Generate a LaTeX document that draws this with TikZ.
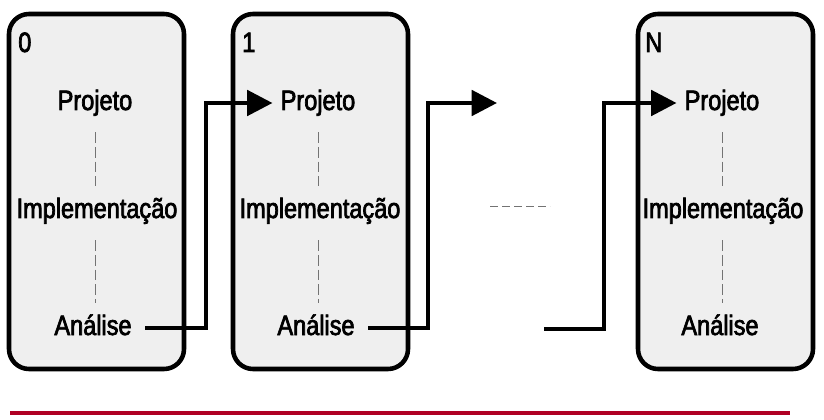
\documentclass[tikz,border=0pt]{standalone}
\usepackage{fontspec}
\setmainfont{Liberation Sans}[FakeStretch=0.84, FakeBold=2.5]
\usetikzlibrary{arrows.meta}
\definecolor{boxgray}{RGB}{239,239,239}
\definecolor{rulered}{RGB}{176,0,36}
\tikzstyle{release} = [rectangle, rounded corners=15pt, minimum width=131.25pt, minimum height=266.25pt, draw=black, line width=3.4pt, fill=boxgray]
\tikzstyle{phase} = [font=\fontsize{21}{25}\selectfont, text height=15pt, text depth=4.5pt, inner sep=6pt]
\tikzstyle{tag} = [font=\fontsize{21}{25}\selectfont, inner sep=0pt, anchor=base west]
\tikzstyle{stage} = [draw=black!55, line width=0.75pt, dash pattern=on 8pt off 3pt, shorten <=6pt, shorten >=3pt]
\tikzstyle{flow} = [line width=3pt, -{Triangle[length=19pt,width=19pt]}]
\begin{document}
\begin{tikzpicture}[x=0.75pt, y=-0.75pt]
\useasboundingbox (0,0) rectangle (824,420);
% releases
\node (R0)[release] at (96.5,191.5) {};
\node (R1)[release] at (320.5,191.5) {};
\node (RN)[release] at (725.5,191.5) {};
\node (t0)[tag] at (18,52) {0};
\node (t1)[tag] at (242,52) {1};
\node (tN)[tag] at (645,52) {N};
% phases
\node (p0)[phase] at (95,103) {Projeto};
\node (i0)[phase] at (97,211) {Implementação};
\node (a0)[phase] at (93,328) {Análise};
\node (p1)[phase] at (318,103) {Projeto};
\node (i1)[phase] at (320,211) {Implementação};
\node (a1)[phase] at (316,328) {Análise};
\node (pN)[phase] at (722,103) {Projeto};
\node (iN)[phase] at (723,211) {Implementação};
\node (aN)[phase] at (720,328) {Análise};
\draw [stage](p0.south) -- (p0.south |- i0.north);
\draw [stage](i0.south -| p0) -- (p0 |- a0.north);
\draw [stage](p1.south) -- (p1.south |- i1.north);
\draw [stage](i1.south -| p1) -- (p1 |- a1.north);
\draw [stage](pN.south) -- (pN.south |- iN.north);
\draw [stage](iN.south -| pN) -- (pN |- aN.north);
% links
\coordinate (b01) at (206,0);
\coordinate (b12) at (428,0);
\coordinate (bN) at (604,0);
\coordinate (more) at (497,103);
\coordinate (from) at (544,329);
\draw [flow, shorten <=4pt](a0.east) -- (a0.east -| b01) |- (p1.west);
\draw [flow, shorten <=4pt](a1.east) -- (a1.east -| b12) |- (more);
\draw [flow](from) -- (from -| bN) |- (pN.west);
\draw [black!55, line width=0.75pt, dash pattern=on 6pt off 3pt] (490,207) -- (550,207);
\draw [rulered, line width=3pt] (10,413) -- (790,413);
\end{tikzpicture}
\end{document}
